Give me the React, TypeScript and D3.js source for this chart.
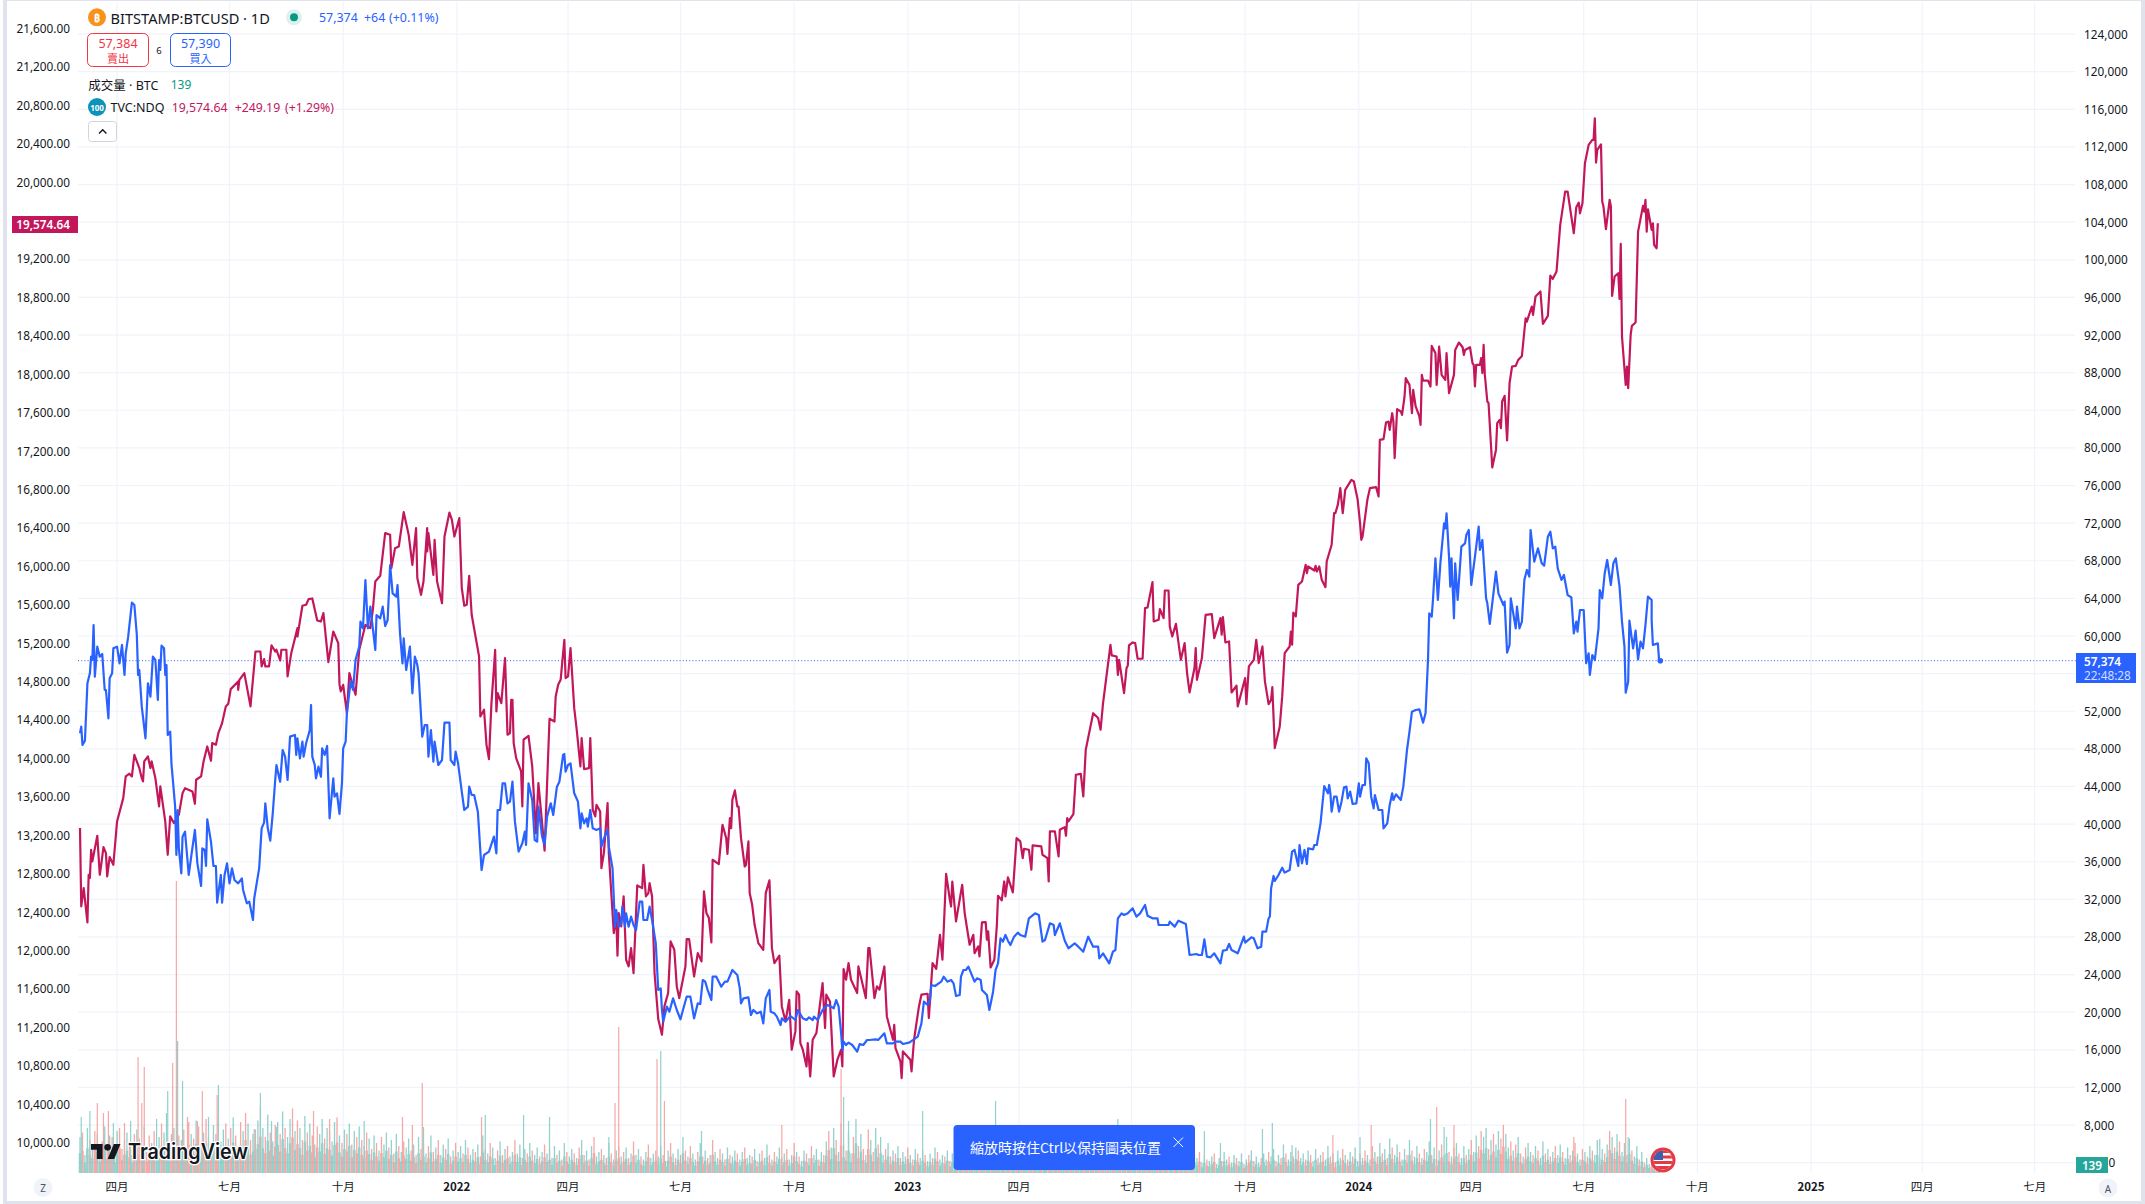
import React from "react";
import * as d3 from "d3";

const W = 2145, H = 1204;
const FONT = "'Noto Sans', 'Noto Sans CJK TC', sans-serif";
const CJK = "'Noto Sans CJK TC', 'Noto Sans', sans-serif";
const START = new Date(Date.UTC(2021, 2, 2));

// [days since 2021-03-02, TVC:NDQ close]
const ndqPoints: [number, number][] = [
[0,13274],[1,12459],[3,12649],[6,12292],[7,12788],[8,12754],[9,13048],[10,12927],[14,13194],[16,12788],[17,12875],[19,13076],[21,13014],[22,12771],[24,12972],[27,12892],[30,13343],[35,13586],[37,13812],[40,13840],[42,13812],[44,14037],[48,13899],[50,13794],[51,13760],[52,13968],[55,14020],[57,13899],[58,13968],[61,13794],[64,13500],[65,13708],[69,13343],[71,12996],[73,13396],[76,13326],[80,13413],[83,13638],[85,13690],[91,13656],[93,13527],[94,13777],[98,13812],[100,13968],[103,14124],[106,13975],[107,14159],[110,14141],[112,14263],[115,14367],[118,14541],[120,14568],[122,14721],[128,14801],[128,14714],[129,14818],[133,14888],[138,14541],[142,15113],[146,15113],[147,14957],[149,15033],[150,14957],[153,14957],[155,15176],[158,15113],[159,15131],[162,15019],[163,15131],[167,15131],[168,14853],[171,15096],[176,15356],[176,15269],[180,15589],[183,15599],[185,15658],[188,15665],[192,15436],[195,15425],[197,15512],[201,15002],[205,15321],[209,15200],[210,14773],[211,14697],[213,14766],[216,14471],[218,14888],[223,14662],[226,15131],[231,15391],[235,15356],[237,15547],[239,15842],[243,15901],[247,16345],[251,16328],[252,15981],[255,16189],[258,16206],[262,16564],[266,16328],[269,16015],[272,16397],[273,15877],[276,15703],[278,15842],[281,16397],[281,16154],[282,16345],[286,15911],[287,16276],[289,15842],[293,15616],[295,16310],[299,16560],[301,16484],[303,16310],[307,16501],[309,15772],[311,15589],[313,15599],[315,15901],[317,15495],[323,15061],[324,14436],[327,14506],[329,14141],[331,13992],[333,14575],[335,14940],[336,15131],[337,14488],[338,14679],[341,14575],[344,15044],[346,14246],[348,14263],[349,14610],[350,14610],[351,14159],[353,14003],[357,13864],[358,13500],[359,14194],[363,14235],[366,13916],[369,13222],[371,13742],[374,13326],[376,13038],[380,14412],[384,14384],[385,14645],[387,14766],[389,14818],[392,15235],[393,14836],[395,14853],[397,15148],[400,14523],[402,14298],[405,13916],[406,14211],[408,13888],[412,13899],[413,14211],[415,13465],[417,13396],[418,13517],
[421,13447],[422,12857],[424,13013],[427,13534],[428,13013],[432,12181],[434,12354],[435,11945],[436,12389],[438,12250],[440,12562],[442,11903],[444,11833],[446,12024],[448,11764],[451,12677],[455,12649],[456,12892],[458,12562],[460,12597],[461,12701],[463,12562],[465,11764],[468,11285],[471,11122],[473,11417],[476,11556],[478,12094],[481,12007],[483,11625],[485,11504],[490,11833],[491,12118],[493,12118],[497,11729],[500,11972],[503,11886],[505,12614],[507,12389],[509,12337],[511,12083],[512,12944],[517,12899],[520,13308],[523,13169],[524,13006],[526,13378],[527,13274],[528,13568],[530,13666],[532,13499],[533,13499],[535,13169],[538,12874],[539,12892],[541,13135],[542,12597],[544,12475],[546,12267],[549,12076],[553,12007],[555,12597],[558,12729],[560,12024],[562,11868],[566,11945],[568,11417],[571,11261],[574,11486],[576,10966],[579,11157],[580,11573],[582,11539],[583,11035],[585,10966],[588,10792],[589,11035],[591,10688],[593,11070],[596,11140],[601,11660],[603,11192],[604,11539],[607,11469],[610,10688],[613,10862],[616,10966],[617,10792],[618,11806],[620,11695],[622,11868],[624,11695],[629,11556],[630,11833],[636,11504],[638,12024],[639,12024],[643,11504],[645,11625],[647,11591],[651,11833],[653,11313],[658,11070],[659,11226],[660,10983],[664,10845],[665,10671],[666,10949],[672,10862],[673,10740],[675,11070],[679,11417],[681,11539],[686,11549],[687,11296],[690,11868],[693,11809],[696,12163],[698,11903],[701,12798],[704,12527],[705,12458],[706,12718],[709,12302],[714,12684],[716,12389],[720,12059],[723,12163],[724,11972],[727,12042],[728,11938],[730,12292],[733,12295],[734,12111],[735,12198],[737,11823],[740,11903],[742,12250],[743,12569],[746,12521],[748,12718],[749,12562],[751,12760],[755,12604],[758,13169],[761,13135],[763,12961],[764,13058],[768,13048],[770,12840],[771,13093],[778,13083],[779,12996],[783,12961],[784,12718],[785,13239],[789,13239],[792,12979],[793,13256],[797,13284],[798,13194],[799,13378],[800,13343],[804,13419],[806,13829],[810,13839],[812,13603],[814,14089],[820,14470],[824,14420],
[826,14298],[828,14575],[834,15183],[835,15072],[839,15061],[840,14870],[841,15026],[845,14679],[847,14940],[848,14964],[849,15176],[852,15207],[854,15200],[856,15037],[860,15037],[862,15564],[864,15571],[868,15835],[869,15425],[873,15443],[874,15554],[877,15460],[878,15748],[881,15748],[882,15373],[884,15269],[887,15401],[890,15113],[891,15026],[894,15200],[896,14888],[898,14686],[902,14940],[903,15148],[904,14818],[908,15044],[911,15495],[916,15502],[918,15252],[923,15460],[924,15287],[925,15471],[927,15207],[930,15217],[932,14686],[936,14756],[937,14541],[943,14836],[944,14565],[946,14957],[950,15026],[952,15235],[954,14992],[957,15165],[959,14801],[962,14565],[964,14610],[965,14742],[967,14107],[971,14332],[973,14645],[975,15096],[979,15165],[980,15321],[981,15183],[982,15519],[984,15478],[986,15807],[989,15842],[992,16015],[993,15929],[994,15998],[999,15956],[1000,16005],[1001,15946],[1003,15998],[1005,15859],[1008,15783],[1009,16050],[1013,16224],[1015,16553],[1016,16553],[1018,16640],[1020,16814],[1022,16553],[1024,16796],[1029,16900],[1031,16883],[1034,16699],[1036,16449],[1037,16276],[1038,16310],[1042,16699],
[1044,16814],[1049,16824],[1051,16727],[1052,17317],[1055,17324],[1057,17497],[1059,17507],[1060,17421],[1062,17594],[1063,17507],[1064,17126],[1066,17636],[1069,17612],[1070,17577],[1072,17768],[1073,17959],[1076,17889],[1078,17594],[1079,17837],[1081,17664],[1084,17560],[1085,17473],[1086,17993],[1087,17934],[1091,17934],[1093,17872],[1094,18295],[1097,18219],[1098,17889],[1100,18288],[1102,17993],[1105,17941],[1106,18219],[1108,17802],[1112,17993],[1113,18253],[1116,18330],[1119,18281],[1120,18201],[1121,18253],[1125,18281],[1127,18115],[1128,18097],[1129,17872],[1130,18097],[1133,18097],[1134,18167],[1135,18011],[1136,18306],[1137,17993],[1139,17716],[1140,17698],[1143,17029],[1146,17212],[1147,17490],[1149,17525],[1150,17438],[1151,17716],[1153,17775],[1155,17310],[1157,17906],[1159,18080],[1162,18087],[1164,18149],[1167,18191],[1170,18583],[1171,18548],[1175,18705],[1176,18618],[1178,18809],[1182,18861],[1184,18524],[1188,18607],[1190,19027],[1192,18993],[1195,19069],[1198,19555],[1199,19641],[1202,19902],[1204,19902],[1209,19468],[1211,19739],[1213,19787],[1214,19676],[1216,19780],[1218,20197],[1221,20388],[1224,20440],[1225,20440],[1226,20665],[1227,20204],[1228,20336],[1231,20394],[1232,19798],[1233,19746],[1235,19510],[1238,19815],[1239,19746],[1240,18816],[1242,19017],[1245,19052],[1246,18784],[1247,19357],[1248,18392],[1251,17889],[1252,18080],[1253,17854],[1255,18410],[1256,18503],[1259,18538],[1260,19006],[1261,19485],[1265,19753],[1266,19693],[1267,19815],[1268,19485],[1269,19718],[1272,19503],[1273,19572],[1274,19347],[1276,19312],[1277,19572]
];

// [days since 2021-03-02, BITSTAMP:BTCUSD close]
const btcPoints: [number, number][] = [
[0,49653],[1,50362],[2,48413],[4,48874],[6,54969],[8,56032],[9,57804],[10,57450],[11,61171],[12,55678],[14,58867],[16,57804],[18,58088],[20,54260],[21,54260],[23,51248],[24,55501],[26,56032],[27,58690],[30,58867],[32,57095],[34,59045],[36,55855],[37,58159],[39,59931],[42,63546],[44,63297],[46,60108],[47,55855],[48,56387],[50,52488],[53,49122],[55,54969],[57,53551],[59,57804],[61,57450],[63,53197],[64,57450],[65,56387],[66,58974],[68,58690],[69,55855],[70,56918],[71,49476],[73,49830],[74,46463],[77,41856],[78,36717],[79,41502],[80,37426],[82,34768],[83,38667],[85,39198],[88,34592],[90,36542],[93,39376],[95,35832],[98,33421],[99,37426],[101,37249],[102,35547],[103,40510],[106,38135],[108,35547],[110,35547],[111,31649],[114,34592],[115,31649],[117,34592],[119,35832],[121,33705],[123,35300],[125,34060],[128,33705],[131,34236],[132,32996],[135,31578],[137,31756],[140,29807],[141,32110],[143,33705],[145,35300],[147,39552],[149,40155],[150,42211],[152,39552],[154,38241],[156,41147],[158,44691],[159,46286],[161,45046],[162,44514],[164,47881],[166,47172],[168,44691],[170,49299],[174,49476],[175,47350],[176,49122],[178,46995],[180,48767],[181,47172],[183,48589],[186,50007],[187,52665],[188,47172],[190,46286],[191,44868],[193,46109],[195,45046],[196,48058],[198,47350],[200,48305],[202,40616],[205,44868],[206,42919],[208,43274],[210,41076],[212,44337],[213,48058],[215,48767],[216,51779],[219,55146],[221,54260],[223,57450],[226,58867],[227,61526],[229,60817],[231,65955],[233,60817],[235,63120],[237,60817],[239,58513],[240,62234],[243,61880],[245,63120],[247,61065],[249,61703],[251,67550],[253,64538],[256,64183],[257,65424],[259,60285],[261,57095],[262,59753],[264,56387],[267,58867],[269,53906],[271,57804],[273,56918],[274,56032],[277,49299],[279,50539],[281,50539],[282,47172],[284,50007],[286,46641],[287,48767],[290,46286],[293,46818],[295,50787],[299,50787],[300,46818],[303,46286],[304,47704],[306,46463],[309,43451],[311,41502],[314,41856],[315,43982],[317,43097],[319,43097],[322,41325],[325,35122],[327,36717],[331,37072],[335,38667],[337,36894],[338,41502],[340,41502],[342,44337],[344,44337],[346,42211],[348,42388],[350,44514],[352,40262],[355,37072],[358,37958],[360,39198],[361,37781],[363,44337],[366,42565],[368,38312],[370,38135],[371,41856],[374,38667],[376,37781],[378,40793],[381,42211],[383,40970],[386,43982],[388,44514],[391,47350],[392,47456],[393,45578],[395,46286],[397,46463],[400,43274],[403,42388],[405,39552],[406,41147],[408,40084],[410,40616],[411,39730],[413,41502],[415,39552],[418,39375],
[421,39550],[422,37600],[424,38486],[427,39372],[428,37600],[431,35297],[433,29095],[434,30867],[436,29095],[438,29449],[439,31221],[441,29095],[442,30512],[444,29095],[446,30158],[448,29272],[450,28740],[453,31753],[455,31753],[456,29804],[459,29804],[461,31221],[463,29804],[466,27323],[468,22361],[470,22538],[471,20235],[472,18994],[475,20589],[477,20058],[480,21475],[483,20235],[486,19243],[488,20235],[491,21652],[494,21652],[497,19349],[500,20943],[502,20872],[504,23424],[506,23247],[508,22361],[511,21298],[512,23779],[515,23779],[519,22716],[522,23247],[524,23247],[528,24488],[532,23956],[534,22538],[535,20943],[537,21475],[541,21581],[543,19703],[545,20235],[548,19880],[551,20058],[553,18817],[555,21475],[558,22361],[559,20058],[562,19880],[564,19526],[567,18640],[568,19349],[571,18994],[575,19597],[579,19172],[581,20235],[585,19349],[588,19172],[590,19455],[593,19172],[594,19526],[597,19172],[601,20235],[605,20767],[608,20589],[610,20412],[612,21298],[614,20589],[616,17754],[617,15982],[618,16868],[620,16513],[622,16762],[625,16513],[629,15805],[631,16620],[634,16513],[637,17045],[639,17045],[644,17116],[646,17045],[651,17754],[653,16691],[658,16691],[660,16868],[664,16868],[666,16620],[671,16762],[675,17116],[678,17400],[681,18817],[683,21121],[686,20767],[688,21298],[689,22893],[692,22786],[695,23070],[697,23247],[699,23779],[702,23247],[705,23424],[707,23070],[709,21723],[712,21829],[713,23779],[715,24488],[717,24488],[719,24842],[724,23247],[726,23602],[729,23424],[730,22361],[734,21829],[736,20235],[739,22184],[741,24488],[743,25196],[745,27854],[747,27500],[749,28209],[751,27606],[753,27145],[756,28032],[759,28457],[761,28209],[765,28032],[768,29981],[773,30512],[776,30335],[779,27500],[781,27677],[785,29449],[788,29272],[789,28209],[793,29449],[797,27606],[800,26791],[805,27323],[808,26969],[812,26437],[816,28032],[820,26969],[824,26969],[825,25728],[828,26260],[833,25196],[836,26437],[838,26614],[840,29981],[843,30512],[845,30335],[848,30512],[852,31043],[855,30158],[858,30512],[862,31398],[864,30264],
[868,29984],[872,29984],[873,29275],[881,29275],[882,29629],[886,29098],[889,29736],[895,29381],[898,26085],[904,26191],[905,26085],[908,26085],[910,27750],[912,25908],[915,25837],[918,26262],[923,25199],[925,26546],[928,26617],[930,27255],[932,26617],[937,26262],[942,28034],[943,27397],[948,27964],[950,27857],[953,26794],[956,26971],[957,28566],[960,28566],[962,29984],[963,30161],[964,33174],[966,34485],[967,33953],[970,34591],[973,35371],[975,34840],[979,35122],[981,37072],[983,37249],[986,35548],[987,37780],[989,35831],[991,37249],[993,35760],[994,37426],[998,37320],[999,37780],[1001,37780],[1004,40084],[1007,44053],[1010,43274],[1011,44160],[1012,43274],[1013,41325],[1015,42919],[1017,42919],[1019,41325],[1021,42388],[1023,43911],[1025,43982],[1026,42742],[1028,43451],[1030,42140],[1033,42211],[1035,44337],[1036,42919],[1038,44160],[1040,44160],[1041,46995],[1043,46463],[1045,42919],[1047,41679],[1048,43097],[1051,41502],[1054,41502],[1055,39552],[1058,40084],[1060,42034],[1062,43274],[1063,42565],[1065,43167],[1069,42565],[1071,43982],[1074,47881],[1076,49830],[1078,51957],[1081,52134],[1084,52205],[1087,50787],[1089,51779],[1091,57450],[1092,62412],[1094,62057],[1095,63829],[1097,68259],[1099,63829],[1101,67728],[1104,71980],[1105,71449],[1106,73043],[1108,68436],[1109,65247],[1110,68259],[1112,61880],[1113,67728],[1115,63829],[1118,69499],[1121,69854],[1122,70740],[1124,71271],[1126,65424],[1129,68436],[1132,71626],[1133,69145],[1135,70208],[1138,64006],[1139,63475],[1141,61277],[1143,63475],[1146,66841],[1148,64538],[1152,63297],[1153,63652],[1155,58229],[1157,59045],[1158,64006],[1162,60817],[1163,63120],[1165,60817],[1167,61526],[1169,65955],[1171,67019],[1173,66310],[1174,71271],[1177,67905],[1180,69322],[1183,67728],[1185,67480],[1188,70563],[1190,71094],[1192,69322],[1194,69499],[1196,67196],[1199,65955],[1201,66487],[1204,64361],[1207,64113],[1209,60285],[1211,61526],[1212,60462],[1214,62766],[1217,62766],[1219,57095],[1221,58159],[1222,55855],[1224,57981],[1226,57450],[1229,60817],[1230,64892],[1232,64006],[1234,66664],[1236,68082],[1239,65424],[1241,67728],[1243,68259],[1246,65247],[1248,61526],[1250,58867],[1251,53977],[1253,55146],[1254,61632],[1257,58690],[1259,60568],[1261,57521],[1263,59399],[1265,58690],[1267,61171],[1269,64184],[1272,63828],[1272,61701],[1273,59043],[1277,59220],[1278,57448],[1279,57374]
];

// volume in units of 75 BTC, one entry per two days; negative = down day
const VOL_BASE_UNIT = 0.75;
const volBase: number[] = [
24,-27,12,30,-22,18,-28,26,14,-21,31,-17,25,-24,13,28,-30,-16,22,27,-19,12,-26,29,-23,16,31,-14,-25,20,-28,17,24,-33,27,-21,15,-26,30,-18,
-25,22,-29,16,-34,26,-23,35,-31,19,27,-36,24,-20,32,-26,-38,21,29,-33,23,-30,37,-25,18,-34,28,-40,33,-22,26,-29,35,-44,30,-24,39,-27,21,-32,
34,-26,41,-30,24,36,-43,28,-35,30,-22,38,-27,33,-25,19,-31,26,36,-23,30,-28,21,34,-37,25,-20,29,-26,33,-19,28,-24,31,-22,18,-27,23,-16,25,
-20,15,-24,19,27,-17,22,-13,26,-18,14,-21,17,23,-15,19,-12,24,-16,20,13,-18,25,-14,17,-22,12,19,-16,23,-11,15,-20,14,18,-13,22,-17,12,16,
-14,19,-11,25,-16,13,-20,17,10,-15,21,-12,16,-18,11,14,-22,13,19,-10,16,-13,20,-15,12,17,-11,14,-19,13,-16,10,18,-12,15,-9,20,-14,11,16,
-13,10,-17,22,-12,15,-9,18,-24,11,14,-16,12,-10,20,-13,9,15,-18,11,-14,17,-10,13,-21,12,16,-11,9,14,-19,10,13,-15,11,18,-12,8,15,-20,
13,-10,16,-12,24,-15,11,-18,13,9,-14,20,-11,15,-10,12,-22,14,10,-16,13,-9,17,-12,11,15,-13,9,14,-17,10,12,-11,16,-8,13,-15,10,19,-12,
9,-14,11,17,-10,13,-16,9,12,-20,14,-11,8,15,-13,10,-18,12,16,-9,14,-12,21,-28,17,30,-22,14,-33,19,-15,27,13,-24,36,-18,26,-16,12,-29,
22,-14,30,-19,24,12,-16,20,-11,15,-13,18,-10,14,11,-17,12,-9,16,-13,10,15,-12,8,13,-10,17,-14,9,12,-11,15,-8,13,10,-16,11,-9,14,-12,
10,-13,8,15,-11,9,-14,12,7,-10,16,-12,9,13,-8,11,-15,10,7,-12,14,-9,11,6,-13,10,-8,12,9,-14,7,11,-10,13,-6,9,-12,8,15,-10,
12,-9,16,-11,8,14,-13,10,-20,24,-14,12,-17,21,-11,15,-9,13,-12,18,10,-14,12,-8,16,-11,9,13,-15,8,11,-10,14,-7,12,9,-13,10,-8,15,
-11,9,13,-7,10,-12,8,15,-9,11,-6,13,10,-14,7,12,-9,8,11,-13,6,10,-8,14,9,-11,7,12,-10,8,13,-6,9,-12,15,-8,11,7,-10,13,
9,-14,11,16,-8,12,-10,19,-13,9,14,-11,17,-15,10,13,-9,15,-12,8,16,-10,12,-14,9,18,-11,13,-7,15,10,-16,12,-9,14,-11,17,8,-13,10,
-15,12,9,-18,14,-11,20,-13,16,-10,23,-17,12,19,-14,9,16,-12,22,-15,11,18,-13,10,-16,14,21,-12,17,-9,15,-19,12,24,-14,11,-17,20,-13,10,
18,-12,16,-22,14,25,-18,-28,24,30,-16,22,-26,19,28,-23,-32,26,17,-21,15,-19,24,-13,11,-17,20,14,-12,18,-15,10,21,-13,16,-11,14,-18,12,19,
-14,10,17,-12,15,-20,13,9,-16,14,-11,18,-15,12,22,-10,16,-13,19,-28,24,-17,26,-21,14,20,-12,23,-15,11,18,-9,14,-7,10,6,-8,4,-3,1.85
];

// high-volume days: [days since start, hundreds of BTC, negative = down]
const volSpikes: [number, number][] = [
[1,28],[8,31],[14,-35],[19,-30],[23,-31],[27,25],[36,-25],[41,26],[47,-58],[50,-35],[52,-53],[62,27],[70,30],[71,41],[75,-55],[78,-146],[79,66],[83,46],[87,-28],[95,-26],[99,-41],[104,28],[111,-39],[112,44],[141,22],[146,40],[155,26],[159,23],[189,-31],[202,-27],[230,26],[261,-28],[269,-24],[277,-45],[278,23],[325,-28],[328,29],[359,29],[380,28],[428,18],[433,-35],[436,-73],[467,-57],[470,61],[473,-36],[503,21],[568,-24],[616,-52],[618,38],[622,26],[682,31],[741,36],[840,27],[910,21],[923,15],[957,22],[965,25],[981,14],[1014,-19],[1036,18],[1045,-24],[1093,27],[1098,-33],[1104,23],[1112,-24],[1209,-18],[1230,17],[1251,-37],[1253,18]
];

const leftTicks = d3.range(10000, 21601, 400);
const rightTicks = d3.range(4000, 124001, 4000);
const timeTickDates = ["2021-04-01","2021-07-01","2021-10-01","2022-01-01","2022-04-01","2022-07-01","2022-10-01","2023-01-01","2023-04-01","2023-07-01","2023-10-01","2024-01-01","2024-04-01","2024-07-01","2024-10-01","2025-01-01","2025-04-01","2025-07-01"];
const timeTickLabels = ["四月","七月","十月","2022","四月","七月","十月","2023","四月","七月","十月","2024","四月","七月","十月","2025","四月","七月"];

const x = d3.scaleTime().domain([START, d3.utcDay.offset(START, 1279)]).range([80, 1660.3]);
const xDay = (d: number) => x(START.getTime() + d * 864e5);
const yNdq = d3.scaleLinear().domain([10000, 21600]).range([1142.5, 28.5]);
const yBtc = d3.scaleLinear().domain([4000, 60000]).range([1162.7, 636]);
const yVol = d3.scaleLinear().domain([0, 150]).range([1173, 873]);

const ndqLine = d3.line<[number, number]>().x(d => xDay(d[0])).y(d => yNdq(d[1]));
const btcLine = d3.line<[number, number]>().x(d => xDay(d[0])).y(d => yBtc(d[1]));
const fmt0 = d3.format(",.0f");
const fmt2 = d3.format(",.2f");

const INK = "#131722", BLUE = "#2962ff", RED = "#c2185b", GRID = "#f0f3fa";
const UP = "#26a69a", DOWN = "#ef5350";

export default function App() {
  return (
    <svg width={W} height={H} viewBox={`0 0 ${W} ${H}`} style={{ position: "absolute", left: 0, top: 0, display: "block", background: "#fff" }} fontFamily={FONT}>
      <rect x={3} y={0} width={4} height={H} fill="#e0e3eb" />
      <rect x={2141} y={0} width={4} height={H} fill="#e0e3eb" />
      <rect x={3} y={1201} width={2142} height={3} fill="#e0e3eb" />
      <rect x={3} y={0} width={2142} height={1} fill="#e0e3eb" />

      {/* grid */}
      {rightTicks.map(t => <line key={t} x1={78} x2={2075} y1={yBtc(t)} y2={yBtc(t)} stroke={GRID} strokeWidth={1.2} />)}
      {timeTickDates.map(d => { const px = x(new Date(d + "T00:00:00Z")); return <line key={d} x1={px} x2={px} y1={2} y2={1173} stroke={GRID} strokeWidth={1.2} />; })}

      {/* volume */}
      <g opacity={0.5}>
        {volBase.map((v, i) => {
          const h = Math.abs(v) * VOL_BASE_UNIT;
          const stub = h * 0.55;
          return (
            <g key={i}>
              <rect x={xDay(i * 2) - 0.65} width={1.3} y={yVol(h)} height={yVol(0) - yVol(h)} fill={v >= 0 ? UP : DOWN} />
              <rect x={xDay(i * 2) - 1.25} width={2.5} y={yVol(stub)} height={yVol(0) - yVol(stub)} fill={v >= 0 ? UP : DOWN} />
            </g>
          );
        })}
        {volSpikes.map(([d, v], i) => (
          <rect key={i} x={xDay(d) - 0.6} width={1.2} y={yVol(Math.abs(v))} height={yVol(0) - yVol(Math.abs(v))} fill={v >= 0 ? UP : DOWN} />
        ))}
      </g>

      {/* last price line */}
      <line x1={78} x2={2076} y1={yBtc(57374)} y2={yBtc(57374)} stroke={BLUE} strokeWidth={1} strokeDasharray="1 2.2" />

      {/* series */}
      <path d={ndqLine(ndqPoints) || ""} fill="none" stroke={RED} strokeWidth={2.2} strokeLinejoin="round" />
      <path d={btcLine(btcPoints) || ""} fill="none" stroke={BLUE} strokeWidth={2.2} strokeLinejoin="round" />
      <circle cx={xDay(1279)} cy={yBtc(57374)} r={2.8} fill={BLUE} />

      {/* left axis */}
      {leftTicks.map(t => (
        <text key={t} x={70} y={yNdq(t) - 0.5} textAnchor="end" dominantBaseline="central" fontSize={11.8} fill={INK}>{fmt2(t)}</text>
      ))}
      <rect x={12} y={216} width={66} height={17} fill={RED} />
      <text x={70} y={224} textAnchor="end" dominantBaseline="central" fontSize={11.8} fontWeight={600} fill="#fff">19,574.64</text>

      {/* right axis: 56,000 and 4,000 sit behind the price tags */}
      {rightTicks.filter(t => t !== 56000 && t !== 4000).map(t => (
        <text key={t} x={2084} y={yBtc(t) - 0.5} dominantBaseline="central" fontSize={11.8} fill={INK}>{fmt0(t)}</text>
      ))}
      <text x={2108.5} y={yBtc(4000) - 1} dominantBaseline="central" fontSize={11.8} fill={INK}>0</text>
      <rect x={2076} y={653} width={60} height={30} fill={BLUE} />
      <text x={2084} y={660.5} dominantBaseline="central" fontSize={11.8} fontWeight={600} fill="#fff">57,374</text>
      <text x={2084} y={675} dominantBaseline="central" fontSize={11.8} fill="#d4deff">22:48:28</text>
      <rect x={2076} y={1157} width={32} height={16} fill="#26a69a" />
      <text x={2092} y={1165} textAnchor="middle" dominantBaseline="central" fontSize={11.8} fontWeight={600} fill="#fff">139</text>

      {/* time axis */}
      {timeTickDates.map((d, i) => {
        const year = /^\d/.test(timeTickLabels[i]);
        return (
          <text key={d} x={x(new Date(d + "T00:00:00Z"))} y={1186} textAnchor="middle" dominantBaseline="central"
            fontFamily={CJK} fontSize={11.5} fontWeight={year ? 700 : 400} fill={INK}>{timeTickLabels[i]}</text>
        );
      })}
      <circle cx={43} cy={1187.5} r={9.5} fill={GRID} />
      <text x={43} y={1188} textAnchor="middle" dominantBaseline="central" fontSize={10} fill="#50535e">Z</text>
      <circle cx={2108} cy={1188} r={9.5} fill={GRID} />
      <text x={2108} y={1188.5} textAnchor="middle" dominantBaseline="central" fontSize={10} fill="#50535e">A</text>

      {/* legend */}
      <circle cx={97} cy={17.3} r={9} fill="#f7931a" />
      <text x={97} y={17.8} textAnchor="middle" dominantBaseline="central" fontSize={11} fontWeight={700} fill="#fff">₿</text>
      <text x={110.5} y={17.5} dominantBaseline="central" fontSize={14.6} fill={INK}>BITSTAMP:BTCUSD · 1D</text>
      <circle cx={294} cy={17.3} r={8} fill="#089981" opacity={0.14} />
      <circle cx={294} cy={17.3} r={4} fill="#089981" />
      <text x={319} y={17.5} dominantBaseline="central" fontSize={12.4} fill={BLUE}>57,374</text>
      <text x={364} y={17.5} dominantBaseline="central" fontSize={12.4} fill={BLUE}>+64</text>
      <text x={389} y={17.5} dominantBaseline="central" fontSize={12.4} fill={BLUE}>(+0.11%)</text>

      <rect x={87.5} y={33.5} width={61} height={33} rx={5} fill="#fff" stroke="#f23645" strokeWidth={1} />
      <text x={118} y={43.7} textAnchor="middle" dominantBaseline="central" fontSize={12.5} fill="#f23645">57,384</text>
      <text x={118} y={58} textAnchor="middle" dominantBaseline="central" fontFamily={CJK} fontSize={11} fill="#f23645">賣出</text>
      <text x={159} y={50.7} textAnchor="middle" dominantBaseline="central" fontSize={9.5} fill={INK}>6</text>
      <rect x={170.5} y={33.5} width={60} height={33} rx={5} fill="#fff" stroke={BLUE} strokeWidth={1} />
      <text x={200.5} y={43.7} textAnchor="middle" dominantBaseline="central" fontSize={12.5} fill={BLUE}>57,390</text>
      <text x={200.5} y={58} textAnchor="middle" dominantBaseline="central" fontFamily={CJK} fontSize={11} fill={BLUE}>買入</text>

      <text x={88.3} y={84.5} dominantBaseline="central" fontFamily={CJK} fontSize={12.5} fill={INK}>成交量<tspan fontFamily={FONT}> · BTC</tspan></text>
      <text x={170.7} y={84} dominantBaseline="central" fontSize={12} fill="#089981">139</text>

      <circle cx={97} cy={107} r={9} fill="#0b94b8" />
      <text x={97} y={107.3} textAnchor="middle" dominantBaseline="central" fontSize={8} fontWeight={700} fill="#fff">100</text>
      <text x={110.5} y={107.5} dominantBaseline="central" fontSize={12.5} fill={INK}>TVC:NDQ</text>
      <text x={171.7} y={107.5} dominantBaseline="central" fontSize={12.3} fill={RED}>19,574.64</text>
      <text x={234.7} y={107.5} dominantBaseline="central" fontSize={12.3} fill={RED}>+249.19</text>
      <text x={285} y={107.5} dominantBaseline="central" fontSize={12.3} fill={RED}>(+1.29%)</text>
      <rect x={88.5} y={121.5} width={28} height={20} rx={3} fill="#fff" stroke="#d1d4dc" />
      <path d="M99 133.5 L102.7 129.8 L106.4 133.5" fill="none" stroke={INK} strokeWidth={1.4} />

      {/* TradingView logo */}
      <g transform="translate(91 1140.7) scale(0.83)" fill={INK}>
        <path d="M14 22H7V11H0V4h14v18zM28 22h-8l7.5-18h8L28 22z" />
        <circle cx={20} cy={8} r={4} />
      </g>
      <text x={128} y={1151.5} dominantBaseline="central" fontFamily="Inter, sans-serif" fontSize={21} fontWeight={600} fill={INK} stroke="#fff" strokeWidth={2.5} style={{ paintOrder: "stroke" }} textLength={120} lengthAdjust="spacingAndGlyphs">TradingView</text>

      {/* toast */}
      <rect x={953.5} y={1125} width={241.5} height={45} rx={4} fill={BLUE} />
      <text x={970} y={1146.5} dominantBaseline="central" fontFamily={CJK} fontSize={13.5} fill="#fff" textLength={191} lengthAdjust="spacingAndGlyphs">縮放時按住Ctrl以保持圖表位置</text>
      <path d="M1173.5 1137.5 L1183 1147 M1183 1137.5 L1173.5 1147" stroke="#fff" strokeWidth={1} fill="none" />

      {/* economic event flag */}
      <circle cx={1663} cy={1160} r={12.5} fill="#e53945" />
      <circle cx={1663} cy={1160} r={9.5} fill="#fff" />
      <clipPath id="flagClip"><circle cx={1663} cy={1160} r={9.5} /></clipPath>
      <g clipPath="url(#flagClip)">
        <rect x={1653} y={1161} width={21} height={3} fill="#e53945" />
        <rect x={1653} y={1166} width={21} height={3} fill="#e53945" />
        <rect x={1653} y={1150} width={21} height={3} fill="#e53945" />
        <rect x={1653} y={1155.5} width={21} height={3} fill="#e53945" />
        <rect x={1653} y={1150} width={10} height={10} fill="#3c5fb0" />
      </g>
    </svg>
  );
}
